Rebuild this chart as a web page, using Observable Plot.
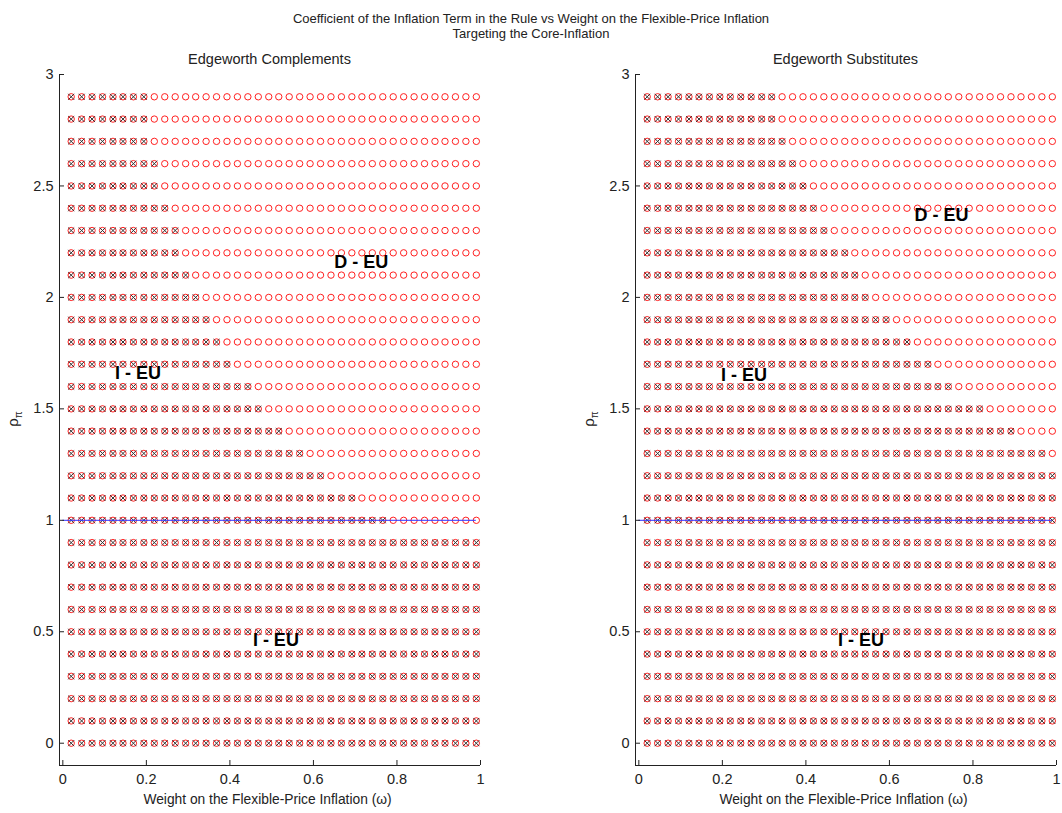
<!DOCTYPE html>
<html>
<head>
<meta charset="utf-8">
<script src="https://cdn.jsdelivr.net/npm/d3@7"></script>
<script src="https://cdn.jsdelivr.net/npm/@observablehq/plot@0.6"></script>
<style>
  body { margin: 0; background: #fff; }
  #fig { position: relative; width: 1062px; height: 813px; overflow: hidden; background: #fff; }
  #fig svg { position: absolute; top: 0; }
</style>
</head>
<body>
<div id="fig"></div>
<script>
// ---- Data ----
const omega = [0.020, 0.045, 0.070, 0.095, 0.120, 0.144, 0.169, 0.194, 0.219, 0.244,
               0.269, 0.294, 0.318, 0.343, 0.368, 0.393, 0.418, 0.443, 0.468, 0.493,
               0.517, 0.542, 0.567, 0.592, 0.617, 0.642, 0.667, 0.692, 0.716, 0.741,
               0.766, 0.791, 0.816, 0.841, 0.866, 0.891, 0.915, 0.940, 0.965, 0.990];
const rho = [0, 0.1, 0.2, 0.3, 0.4, 0.5, 0.6, 0.7, 0.8, 0.9,
             1.0, 1.1, 1.2, 1.3, 1.4, 1.5, 1.6, 1.7, 1.8, 1.9,
             2.0, 2.1, 2.2, 2.3, 2.4, 2.5, 2.6, 2.7, 2.8, 2.9];
// number of determinate (crossed) points in each row, from the left, by rho ascending
const crossedComplements = [40, 40, 40, 40, 40, 40, 40, 40, 40, 40,
                            31, 28, 25, 23, 21, 19, 18, 16, 15, 14,
                            13, 12, 11, 11, 10, 9, 9, 8, 8, 8];
const crossedSubstitutes = [40, 40, 40, 40, 40, 40, 40, 40, 40, 40,
                            40, 40, 40, 39, 36, 33, 30, 28, 26, 24,
                            22, 21, 20, 18, 17, 16, 15, 14, 13, 13];
const labelsComplements = [
  {x: 0.65, y: 2.16, text: "D - EU"},
  {x: 0.125, y: 1.66, text: "I - EU"},
  {x: 0.455, y: 0.46, text: "I - EU"}
];
const labelsSubstitutes = [
  {x: 0.66, y: 2.37, text: "D - EU"},
  {x: 0.197, y: 1.65, text: "I - EU"},
  {x: 0.477, y: 0.46, text: "I - EU"}
];
const refLine = {y: 1, x1: 0, x2: 0.99};
const xTicks = [0, 0.2, 0.4, 0.6, 0.8, 1];
const yTicks = [0, 0.5, 1, 1.5, 2, 2.5, 3];
const xDomain = [-0.008, 1];
const yDomain = [-0.1, 3];
const mainTitle = ["Coefficient of the Inflation Term in the Rule vs Weight on the Flexible-Price Inflation",
                   "Targeting the Core-Inflation"];
const panelTitles = ["Edgeworth Complements", "Edgeworth Substitutes"];
const xLabel = "Weight on the Flexible-Price Inflation (\u03c9)";

// ---- Drawing ----
const FONT = "'Liberation Sans', Arial, Helvetica, sans-serif";
const W = 531, H = 813, MT = 74, MB = 48;
const fig = document.getElementById("fig");

function panel(counts, labels, marginLeft, marginRight, offsetX) {
  const pts = [];
  rho.forEach((r, i) => omega.forEach((w, j) => pts.push({w, r, crossed: j < counts[i]})));
  const plotW = W - marginLeft - marginRight;
  const plotH = H - MT - MB;
  const svg = Plot.plot({
    width: W, height: H,
    marginLeft, marginRight, marginTop: MT, marginBottom: MB,
    x: {domain: xDomain},
    y: {domain: yDomain},
    style: {fontFamily: FONT, fontSize: "14.5px", color: "#222", background: "transparent", overflow: "visible"},
    marks: [
      Plot.dot(pts, {x: "w", y: "r", r: 3.2, stroke: "#ff2020", strokeWidth: 1, fill: "none"}),
      Plot.dot(pts.filter(d => d.crossed), {x: "w", y: "r", symbol: "times", r: 2.8, stroke: "#333", strokeWidth: 1}),
      Plot.ruleY([refLine], {y: "y", x1: "x1", x2: "x2", stroke: "#3030ff", strokeWidth: 1}),
      Plot.ruleX([xDomain[0]], {y1: yDomain[0], y2: yDomain[1], stroke: "#222"}),
      Plot.ruleY([yDomain[0]], {x1: xDomain[0], x2: xDomain[1], stroke: "#222"}),
      Plot.tickY(yTicks, {y: d => d, insetRight: plotW - 5, stroke: "#222"}),
      Plot.tickX(xTicks, {x: d => d, insetTop: plotH - 5, stroke: "#222"}),
      Plot.axisX({ticks: xTicks, tickSize: 0, tickPadding: 8, tickFormat: d => String(d), label: null, fill: "#222"}),
      Plot.axisY({ticks: yTicks, tickSize: 0, tickPadding: 6, tickFormat: d => String(d), label: null, fill: "#222"}),
      Plot.text(labels, {x: "x", y: "y", text: "text", textAnchor: "start", fontWeight: "bold", fontSize: 18, fill: "#000"})
    ]
  });
  svg.style.left = offsetX + "px";
  fig.appendChild(svg);
}

panel(crossedComplements, labelsComplements, 59, 51, 0);
panel(crossedSubstitutes, labelsSubstitutes, 104, 6, 531);

// text overlay: titles and axis labels
const ov = d3.select(fig).append("svg")
  .attr("width", 1062).attr("height", 813)
  .style("left", "0px").style("pointer-events", "none")
  .attr("font-family", FONT).attr("font-size", 14.5).attr("fill", "#222");
ov.append("text").attr("x", 531).attr("y", 22.5).attr("font-size", 13).attr("text-anchor", "middle").text(mainTitle[0]);
ov.append("text").attr("x", 531).attr("y", 38).attr("font-size", 13).attr("text-anchor", "middle").text(mainTitle[1]);
const centers = [59 + (531 - 59 - 51) / 2, 531 + 104 + (531 - 104 - 6) / 2];
const axisLefts = [59, 635];
centers.forEach((cx, i) => {
  ov.append("text").attr("x", cx).attr("y", 63.5).attr("text-anchor", "middle").text(panelTitles[i]);
  ov.append("text").attr("x", cx - 2).attr("y", 804).attr("font-size", 13.8).attr("text-anchor", "middle").text(xLabel);
  const yl = ov.append("text")
    .attr("transform", `translate(${axisLefts[i] - 41},${419}) rotate(-90)`)
    .attr("text-anchor", "middle");
  yl.append("tspan").attr("font-size", 15).text("\u03c1");
  yl.append("tspan").attr("font-size", 10).attr("dy", 4).text("\u03c0");
});
</script>
</body>
</html>
